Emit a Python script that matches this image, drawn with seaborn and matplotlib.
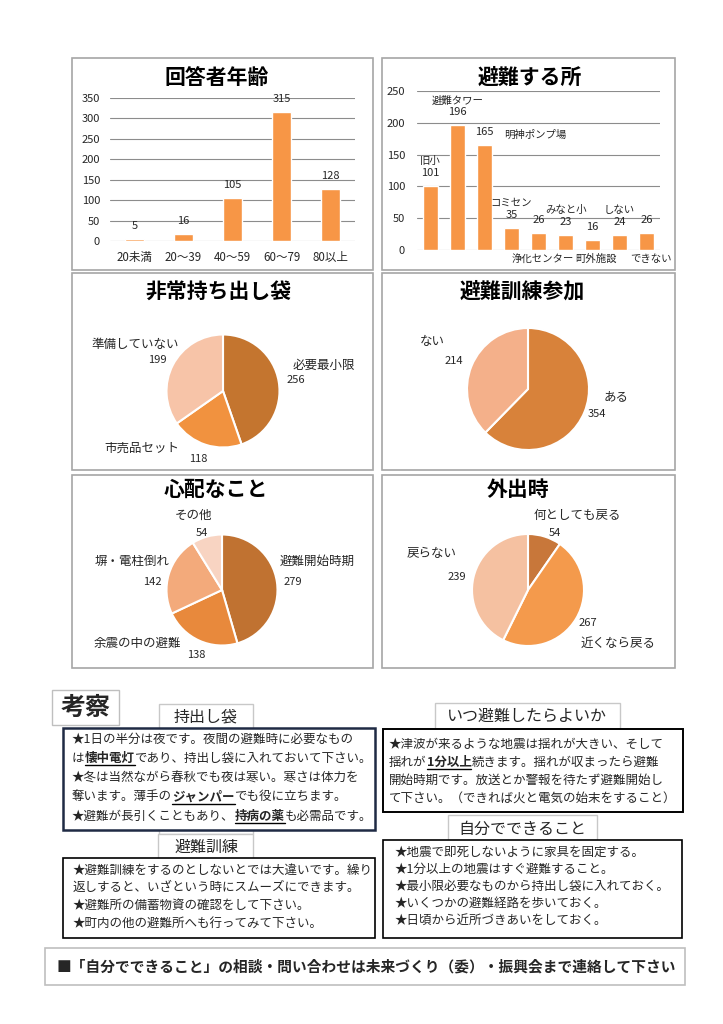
import matplotlib
matplotlib.use("Agg")
import matplotlib.pyplot as plt
import seaborn as sns
import pandas as pd
from matplotlib.patches import Rectangle
from matplotlib.lines import Line2D

# ---------------- data ----------------
age_cats = ["20未満", "20～39", "40～59", "60～79", "80以上"]
age_vals = [5, 16, 105, 315, 128]

shelter_cats = ["旧小", "避難タワー", "明神ポンプ場", "コミセン", "浄化センター",
                "みなと小", "町外施設", "しない", "できない"]
shelter_vals = [101, 196, 165, 35, 26, 23, 16, 24, 26]

bag_cats = ["必要最小限", "市売品セット", "準備していない"]
bag_vals = [256, 118, 199]

drill_cats = ["ある", "ない"]
drill_vals = [354, 214]

worry_cats = ["避難開始時期", "余震の中の避難", "塀・電柱倒れ", "その他"]
worry_vals = [279, 138, 142, 54]

out_cats = ["何としても戻る", "近くなら戻る", "戻らない"]
out_vals = [54, 267, 239]

chart_titles = ["回答者年齢", "避難する所", "非常持ち出し袋", "避難訓練参加", "心配なこと", "外出時"]

kosatsu_title = "考察"
tab_titles = ["持出し袋", "いつ避難したらよいか", "避難訓練", "自分でできること"]
box_bag_lines = ["★1日の半分は夜です。夜間の避難時に必要なもの",
                 "は__懐中電灯__であり、持出し袋に入れておいて下さい。",
                 "★冬は当然ながら春秋でも夜は寒い。寒さは体力を",
                 "奪います。薄手の__ジャンパー__でも役に立ちます。",
                 "★避難が長引くこともあり、__持病の薬__も必需品です。"]
box_when_lines = ["★津波が来るような地震は揺れが大きい、そして",
                  "揺れが__1分以上__続きます。揺れが収まったら避難",
                  "開始時期です。放送とか警報を待たず避難開始し",
                  "て下さい。（できれば火と電気の始末をすること）"]
box_drill_lines = ["★避難訓練をするのとしないとでは大違いです。繰り",
                   "返しすると、いざという時にスムーズにできます。",
                   "★避難所の備蓄物資の確認をして下さい。",
                   "★町内の他の避難所へも行ってみて下さい。"]
box_self_lines = ["★地震で即死しないように家具を固定する。",
                  "★1分以上の地震はすぐ避難すること。",
                  "★最小限必要なものから持出し袋に入れておく。",
                  "★いくつかの避難経路を歩いておく。",
                  "★日頃から近所づきあいをしておく。"]
footer_text = "■「自分でできること」の相談・問い合わせは未来づくり（委）・振興会まで連絡して下さい"

# ---------------- style ----------------
sns.set_theme(style="white")
plt.rcParams["font.family"] = ["Noto Sans CJK JP", "DejaVu Sans"]

W, H = 723, 1024
fig = plt.figure(figsize=(W / 100, H / 100), dpi=100)
fig.patch.set_facecolor("white")

BAR = "#F79646"
GRID = "#8C8C8C"
PANEL_EC = "#A6A6A6"


def ax_px(x0, y0, x1, y1):
    return fig.add_axes([x0 / W, 1 - y1 / H, (x1 - x0) / W, (y1 - y0) / H])


def T(x, y, s, **kw):
    return fig.text(x / W, 1 - y / H, s, **kw)


def box(x0, y0, x1, y1, ec, lw, z=1, fc="none"):
    fig.add_artist(Rectangle((x0 / W, 1 - y1 / H), (x1 - x0) / W, (y1 - y0) / H,
                             transform=fig.transFigure, fc=fc, ec=ec, lw=lw, zorder=z))


PX = 0.72  # px -> points

# panel frames
panels = [(72, 58, 373, 270), (382, 58, 675, 270),
          (72, 273, 373, 470), (382, 273, 675, 470),
          (72, 475, 373, 668), (382, 475, 675, 668)]
for p in panels:
    box(*p, ec=PANEL_EC, lw=1.2)

title_pos = [(217, 77), (530, 77), (219, 291), (522, 291), (216, 489), (518, 489)]
for (tx, ty), s in zip(title_pos, chart_titles):
    T(tx, ty, s, ha="center", va="center", fontsize=15, weight="bold", color="black")


def style_bar_axes(ax, ymax, step, pad_px):
    ax.set_ylim(0, ymax)
    ax.set_yticks(range(0, ymax + 1, step))
    ax.yaxis.grid(True, color=GRID, lw=0.8)
    ax.set_axisbelow(True)
    for sp in ax.spines.values():
        sp.set_visible(False)
    ax.tick_params(axis="y", length=0, labelsize=8, pad=pad_px * PX)
    ax.tick_params(axis="x", length=0, labelsize=8.3, pad=10 * PX)
    ax.set_xlabel("")
    ax.set_ylabel("")
    ax.set_facecolor("none")


# ---- bar chart 1 ----
ax1 = ax_px(110, 98, 355, 241)
df1 = pd.DataFrame({"cat": age_cats, "val": age_vals})
sns.barplot(data=df1, x="cat", y="val", color=BAR, width=0.4, saturation=1, ax=ax1)
style_bar_axes(ax1, 350, 50, 10)
for i, v in enumerate(age_vals):
    ax1.annotate(str(v), (i, v), xytext=(0, 13 * PX), textcoords="offset points",
                 ha="center", va="center", fontsize=8)

# ---- bar chart 2 ----
ax2 = ax_px(417, 91, 660, 250)
df2 = pd.DataFrame({"cat": shelter_cats, "val": shelter_vals})
sns.barplot(data=df2, x="cat", y="val", color=BAR, width=0.56, saturation=1, ax=ax2)
style_bar_axes(ax2, 250, 50, 12)
ax2.set_xticklabels([])
shelter_place = ["top", "top", "right", "top", "bottom", "top", "bottom", "top", "bottom"]
for i, (name, v, pl) in enumerate(zip(shelter_cats, shelter_vals, shelter_place)):
    ax2.annotate(str(v), (i, v), xytext=(0, 13 * PX), textcoords="offset points",
                 ha="center", va="center", fontsize=8)
    if pl == "top":
        ax2.annotate(name, (i, v), xytext=(0, 25 * PX), textcoords="offset points",
                     ha="center", va="center", fontsize=7.5)
    elif pl == "right":
        ax2.annotate(name, (i, v), xytext=(20 * PX, 10 * PX), textcoords="offset points",
                     ha="left", va="center", fontsize=7.5)
    else:
        ax2.annotate(name, (i, 0), xytext=(4 * PX, -9 * PX), textcoords="offset points",
                     ha="center", va="center", fontsize=7.5)


# ---- pies ----
def pie(cx, cy, r, vals, colors):
    ax = ax_px(cx - r, cy - r, cx + r, cy + r)
    ax.pie(vals, colors=colors, startangle=90, counterclock=False,
           wedgeprops=dict(edgecolor="white", linewidth=1.5))
    ax.set_xlim(-1.0, 1.0)
    ax.set_ylim(-1.0, 1.0)
    ax.set_aspect("equal")
    ax.axis("off")
    return ax


pie(223, 391, 56.5, bag_vals, ["#C4752F", "#F1923F", "#F7C4A8"])
pie(528, 389, 61, drill_vals, ["#D8823A", "#F4B08A"])
pie(222, 590, 55.5, worry_vals, ["#C07231", "#E8893C", "#F3AA7B", "#F8D4C2"])
pie(528, 590, 56, out_vals, ["#C8773A", "#F49A4C", "#F5C1A1"])


def pie_labels(cats, vals, name_pos, val_pos):
    for c, v, npos, vpos in zip(cats, vals, name_pos, val_pos):
        T(npos[0], npos[1], c, ha="center", va="center", fontsize=9)
        T(vpos[0], vpos[1], str(v), ha="center", va="center", fontsize=8)


pie_labels(bag_cats, bag_vals, [(324, 365), (142, 448), (135, 344)],
           [(296, 380), (198, 459), (157, 360)])
pie_labels(drill_cats, drill_vals, [(616, 397), (432, 341)],
           [(597, 414), (454, 361)])
pie_labels(worry_cats, worry_vals, [(317, 561), (137, 643), (132, 561), (193, 515)],
           [(293, 582), (196, 655), (152, 582), (202, 533)])
pie_labels(out_cats, out_vals, [(577, 515), (618, 643), (432, 553)],
           [(555, 533), (588, 623), (457, 577)])

# ---------------- text boxes ----------------
TAB_EC = "#C8C8C8"
# 考察
box(52, 690, 119, 725, ec="#BFBFBF", lw=1.0, z=1, fc="white")
T(86, 708, kosatsu_title, ha="center", va="center", fontsize=18, weight="bold", zorder=3)

# tabs (behind main boxes)
box(159, 704, 253, 834, ec=TAB_EC, lw=1.0, z=1, fc="white")
box(435, 703, 620, 740, ec=TAB_EC, lw=1.0, z=1, fc="white")
box(158, 834, 253, 870, ec=TAB_EC, lw=1.0, z=1, fc="white")
box(448, 815, 597, 850, ec=TAB_EC, lw=1.0, z=1, fc="white")
T(206, 717, tab_titles[0], ha="center", va="center", fontsize=11.5, zorder=3)
T(527, 716, tab_titles[1], ha="center", va="center", fontsize=11.5, zorder=3)
T(206, 847, tab_titles[2], ha="center", va="center", fontsize=11.5, zorder=3)
T(522, 829, tab_titles[3], ha="center", va="center", fontsize=11.5, zorder=3)

# main boxes
box(63, 728, 375, 830, ec="#1F2A44", lw=1.8, z=2, fc="white")
box(383, 729, 683, 812, ec="black", lw=1.4, z=2, fc="white")
box(63, 858, 375, 938, ec="black", lw=1.2, z=2, fc="white")
box(383, 840, 682, 938, ec="black", lw=1.2, z=2, fc="white")

renderer = fig.canvas.get_renderer()


def rich_line(x, y, line, fs):
    parts = line.split("__")
    cx = x
    for k, s in enumerate(parts):
        if not s:
            continue
        emph = (k % 2 == 1)
        t = T(cx, y, s, fontsize=fs, weight="bold" if emph else "normal",
              ha="left", va="center", zorder=4)
        bb = t.get_window_extent(renderer)
        if emph:
            yb = H - bb.y0 + 0.5
            fig.add_artist(Line2D([cx / W, (cx + bb.width) / W], [1 - yb / H] * 2,
                                  transform=fig.transFigure, color="black", lw=1.0, zorder=4))
        cx += bb.width


def text_block(x, y0, dy, lines, fs=9):
    for i, ln in enumerate(lines):
        rich_line(x, y0 + i * dy, ln, fs)


text_block(72, 739, 19.3, box_bag_lines)
text_block(389, 744, 18.3, box_when_lines)
text_block(73, 870, 17.7, box_drill_lines)
text_block(395, 852, 17, box_self_lines)

# footer
box(45, 948, 685, 985, ec="#BFBFBF", lw=1.2, z=1, fc="white")
T(366, 966, footer_text, ha="center", va="center", fontsize=10.6, weight="bold", zorder=3)

fig.savefig("out.png", dpi=100, facecolor="white")
